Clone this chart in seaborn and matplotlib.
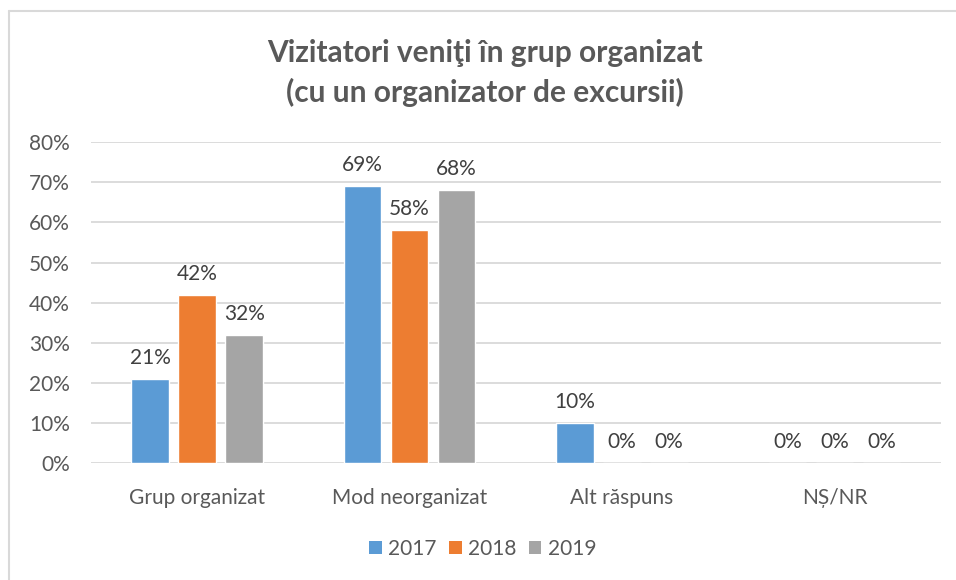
import matplotlib
matplotlib.use("Agg")
import matplotlib.pyplot as plt
import seaborn as sns
import pandas as pd
from matplotlib.lines import Line2D
from matplotlib.patches import Patch

categories = ["Grup organizat", "Mod neorganizat", "Alt răspuns", "NȘ/NR"]
years = ["2017", "2018", "2019"]
values_2017 = [21, 69, 10, 0]
values_2018 = [42, 58, 0, 0]
values_2019 = [32, 68, 0, 0]
yticks = [0, 10, 20, 30, 40, 50, 60, 70, 80]
title = "Vizitatori veniţi în grup organizat\n(cu un organizator de excursii)"

colors = ["#5B9BD5", "#ED7D31", "#A5A5A5"]

rows = []
for y, vals in zip(years, [values_2017, values_2018, values_2019]):
    for c, v in zip(categories, vals):
        rows.append({"cat": c, "year": y, "val": v})
df = pd.DataFrame(rows)

sns.set_theme(style="white")
plt.rcParams["font.family"] = ["Lato", "DejaVu Sans"]

FS = 15

fig = plt.figure(figsize=(9.56, 5.8), dpi=100)
ax = fig.add_axes([0.095, 0.201, 0.889, 0.554])

sns.barplot(data=df, x="cat", y="val", hue="year", order=categories,
            hue_order=years, palette=colors, width=0.665, gap=0.2,
            saturation=1, errorbar=None, ax=ax, legend=False)

for cont in ax.containers:
    ax.bar_label(cont, labels=[f"{v:.0f}%" for v in cont.datavalues],
                 padding=8, fontsize=FS, color="#404040")

ax.set_ylim(0, 80)
ax.set_xlim(-0.5, 3.5)
ax.set_yticks(yticks)
ax.set_yticklabels([f"{t}%" for t in yticks], fontsize=FS, color="#595959")
ax.tick_params(axis="x", labelsize=FS, labelcolor="#595959", pad=18, length=0)
ax.tick_params(axis="y", length=0, pad=15)
ax.set_xlabel("")
ax.set_ylabel("")
ax.yaxis.grid(True, color="#D9D9D9", linewidth=1.3)
ax.set_axisbelow(True)
for s in ax.spines.values():
    s.set_visible(False)

handles = [Patch(facecolor=c, edgecolor="none") for c in colors]
fig.legend(handles, years, loc="center", bbox_to_anchor=(0.505, 0.054), ncol=3,
           frameon=False, fontsize=FS, handlelength=0.6, handleheight=0.6,
           handletextpad=0.3, columnspacing=0.6, labelcolor="#595959")

fig.text(0.507, 0.874, title, ha="center", va="center", fontsize=21.5,
         fontweight="bold", color="#595959", linespacing=1.45)

# chart frame
fig.add_artist(Line2D([9/956, 9/956], [0, 1 - 11/580], transform=fig.transFigure,
                      color="#D9D9D9", linewidth=1.5))
fig.add_artist(Line2D([9/956, 1], [1 - 11/580, 1 - 11/580], transform=fig.transFigure,
                      color="#D9D9D9", linewidth=1.5))

fig.savefig("out.png", dpi=100)
